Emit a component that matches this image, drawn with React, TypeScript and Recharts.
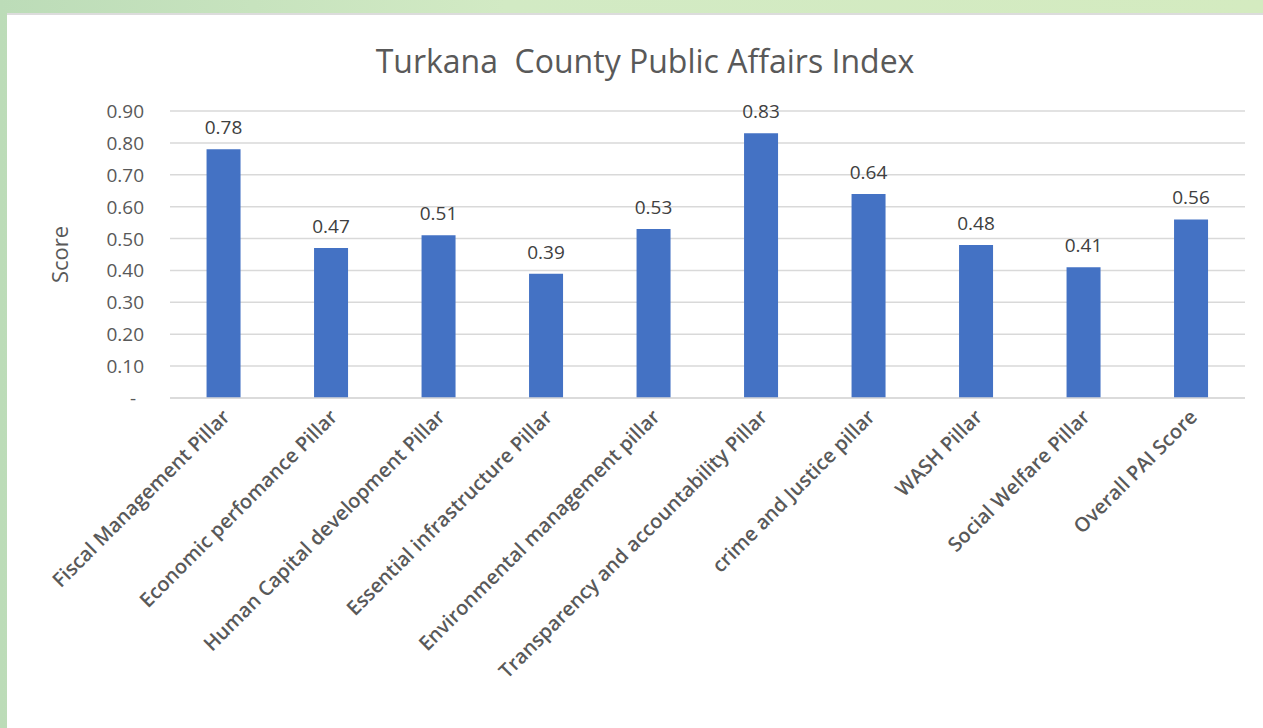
import { Bar, BarChart, CartesianGrid, LabelList, XAxis, YAxis } from "recharts";

const pillars = [
	"Fiscal Management Pillar",
	"Economic perfomance Pillar",
	"Human Capital development Pillar",
	"Essential infrastructure Pillar",
	"Environmental management pillar",
	"Transparency and accountability Pillar",
	"crime and Justice pillar",
	"WASH Pillar",
	"Social Welfare Pillar",
	"Overall PAI Score",
];

const scores = [0.78, 0.47, 0.51, 0.39, 0.53, 0.83, 0.64, 0.48, 0.41, 0.56];

const yTicks = [0, 0.1, 0.2, 0.3, 0.4, 0.5, 0.6, 0.7, 0.8, 0.9];

const data = pillars.map((name, i) => ({ name, score: scores[i] }));

const FONT = "'Open Sans', sans-serif";

const XTick = ({ x, y, payload }: any) => (
	<g transform={`translate(${x + 3},${y + 8})`}>
		<text
			transform="rotate(-45)"
			textAnchor="end"
			dy={6}
			fontSize={20}
			fontWeight={600}
			fontFamily={FONT}
			fill="#595959"
		>
			{payload.value}
		</text>
	</g>
);

// zero is shown as an accounting dash, set a little left of the other labels
const YTick = ({ x, y, payload }: any) => (
	<text
		x={payload.value === 0 ? x - 8 : x}
		y={y}
		dy={7}
		textAnchor="end"
		fontSize={19}
		fontFamily={FONT}
		fill="#595959"
	>
		{payload.value === 0 ? "-" : Number(payload.value).toFixed(2)}
	</text>
);

export default function App() {
	return (
		<div
			style={{
				position: "absolute",
				left: 0,
				top: 0,
				width: 1263,
				height: 728,
				background: "linear-gradient(90deg, #bcdcb8 0%, #d2eac4 40%, #d4ebc0 100%)",
				overflow: "hidden",
			}}
		>
			<div
				style={{
					position: "absolute",
					left: 7,
					top: 13,
					width: 1256,
					height: 715,
					background: "#fff",
					borderTop: "2px solid #dcdcdc",
				}}
			>
				<div
					style={{
						position: "absolute",
						left: 10,
						width: 1256,
						top: 24,
						textAlign: "center",
						fontFamily: FONT,
						fontSize: 32,
						color: "#595959",
						whiteSpace: "pre",
					}}
				>
					{"Turkana  County Public Affairs Index"}
				</div>
				<BarChart
					width={1256}
					height={713}
					data={data}
					margin={{ top: 96, right: 18, left: 0, bottom: 0 }}
					barCategoryGap="34%"
				>
					<CartesianGrid vertical={false} stroke="#d9d9d9" strokeWidth={1.5} />
					<XAxis
						dataKey="name"
						interval={0}
						height={330}
						tickLine={false}
						axisLine={{ stroke: "#d9d9d9", strokeWidth: 1.5 }}
						tick={<XTick />}
					/>
					<YAxis
						width={163}
						domain={[0, 0.9]}
						ticks={yTicks}
						interval={0}
						tickLine={false}
						axisLine={false}
						tickMargin={20}
						tick={<YTick />}
						label={{
							value: "Score",
							angle: -90,
							position: "insideLeft",
							offset: 53,
							style: { textAnchor: "middle", fontSize: 22, fontFamily: FONT, fill: "#595959" },
						}}
					/>
					<Bar dataKey="score" fill="#4472c4" isAnimationActive={false}>
						<LabelList
							dataKey="score"
							position="top"
							offset={15}
							formatter={(v: any) => Number(v).toFixed(2)}
							style={{ fontSize: 19, fontFamily: FONT, fill: "#404040" }}
						/>
					</Bar>
				</BarChart>
			</div>
		</div>
	);
}
